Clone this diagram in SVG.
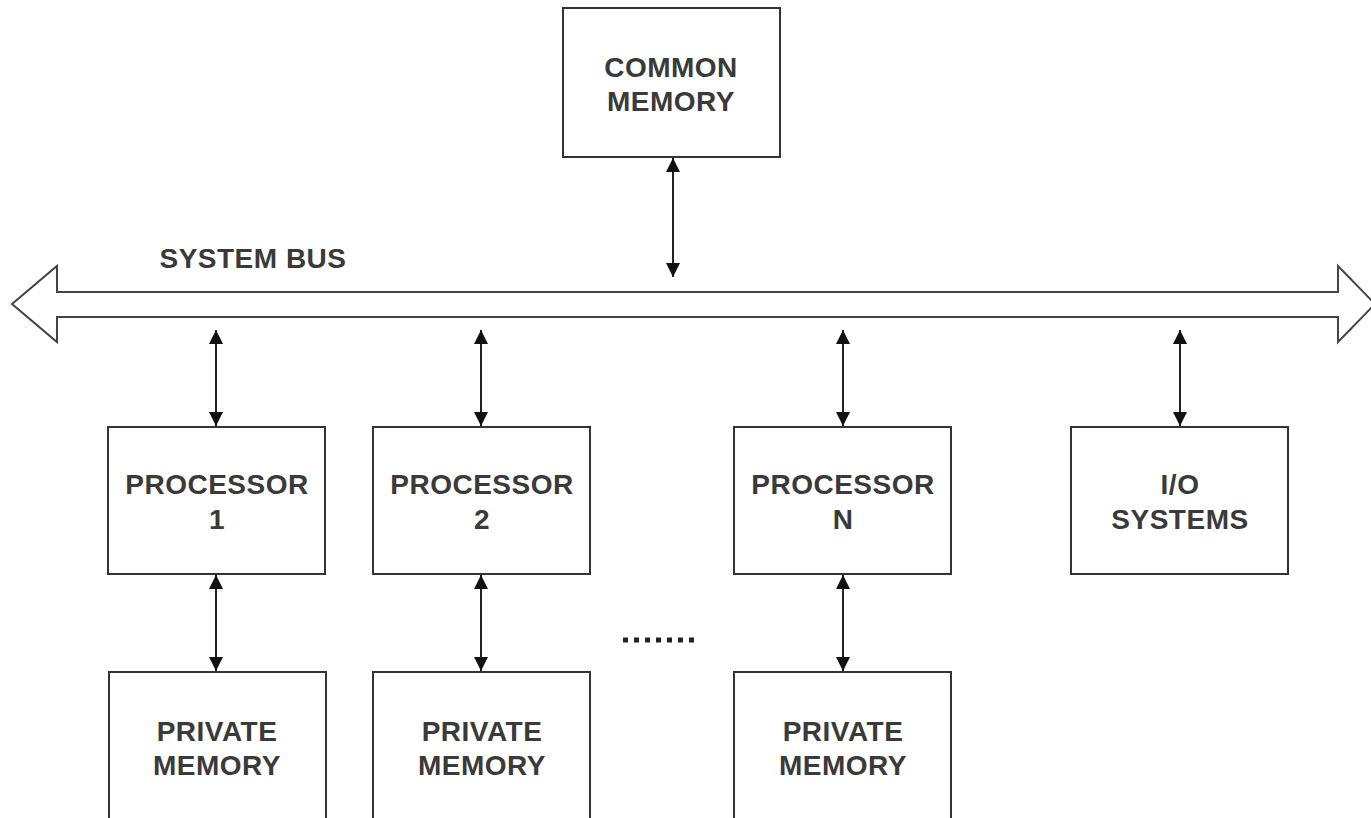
<svg xmlns="http://www.w3.org/2000/svg" width="1371" height="818" viewBox="0 0 1371 818">
<defs>
<marker id="ah" viewBox="0 0 14 14" refX="14" refY="7" markerWidth="14" markerHeight="14" markerUnits="userSpaceOnUse" orient="auto-start-reverse">
<path d="M0,0 L14,7 L0,14 Z" fill="#111"/>
</marker>
<style>
.box{fill:#fff;stroke:#333;stroke-width:2}
.t{font-family:"Liberation Sans",Arial,sans-serif;font-weight:bold;font-size:28px;fill:#3a3a3a;text-anchor:middle;letter-spacing:0.5px}
.c{stroke:#222;stroke-width:2;fill:none;marker-start:url(#ah);marker-end:url(#ah)}
</style>
</defs>
<rect width="1371" height="818" fill="#fff"/>
<g id="bus">
<path d="M12,304 L57,266 L57,292 L1338,292 L1338,266 L1375,304 L1338,342 L1338,317 L57,317 L57,342 Z" fill="#fff" stroke="#444" stroke-width="2" stroke-linejoin="miter"/>
<text class="t" x="253" y="268">SYSTEM BUS</text>
</g>
<g id="common-memory">
<rect class="box" x="563" y="8" width="217" height="149"/>
<text class="t" x="671" y="77">COMMON</text>
<text class="t" x="671" y="111">MEMORY</text>
</g>
<g id="processor-1">
<rect class="box" x="108" y="427" width="217" height="147"/>
<text class="t" x="217" y="494">PROCESSOR</text>
<text class="t" x="217" y="529">1</text>
</g>
<g id="processor-2">
<rect class="box" x="373" y="427" width="217" height="147"/>
<text class="t" x="482" y="494">PROCESSOR</text>
<text class="t" x="482" y="529">2</text>
</g>
<g id="processor-n">
<rect class="box" x="734" y="427" width="217" height="147"/>
<text class="t" x="843" y="494">PROCESSOR</text>
<text class="t" x="843" y="529">N</text>
</g>
<g id="io-systems">
<rect class="box" x="1071" y="427" width="217" height="147"/>
<text class="t" x="1180" y="494">I/O</text>
<text class="t" x="1180" y="529">SYSTEMS</text>
</g>
<g id="private-memory-1">
<rect class="box" x="109" y="672" width="217" height="160"/>
<text class="t" x="217" y="741">PRIVATE</text>
<text class="t" x="217" y="775">MEMORY</text>
</g>
<g id="private-memory-2">
<rect class="box" x="373" y="672" width="217" height="160"/>
<text class="t" x="482" y="741">PRIVATE</text>
<text class="t" x="482" y="775">MEMORY</text>
</g>
<g id="private-memory-n">
<rect class="box" x="734" y="672" width="217" height="160"/>
<text class="t" x="843" y="741">PRIVATE</text>
<text class="t" x="843" y="775">MEMORY</text>
</g>
<g id="ellipsis">
<line x1="623" y1="640" x2="700" y2="640" stroke="#222" stroke-width="5" stroke-dasharray="5,6"/>
</g>
<g id="connectors">
<line class="c" x1="673" y1="158" x2="673" y2="277"/>
<line class="c" x1="216" y1="330" x2="216" y2="426"/>
<line class="c" x1="481" y1="330" x2="481" y2="426"/>
<line class="c" x1="843" y1="330" x2="843" y2="426"/>
<line class="c" x1="1180" y1="330" x2="1180" y2="426"/>
<line class="c" x1="216" y1="575" x2="216" y2="671"/>
<line class="c" x1="481" y1="575" x2="481" y2="671"/>
<line class="c" x1="843" y1="575" x2="843" y2="671"/>
</g>
</svg>
